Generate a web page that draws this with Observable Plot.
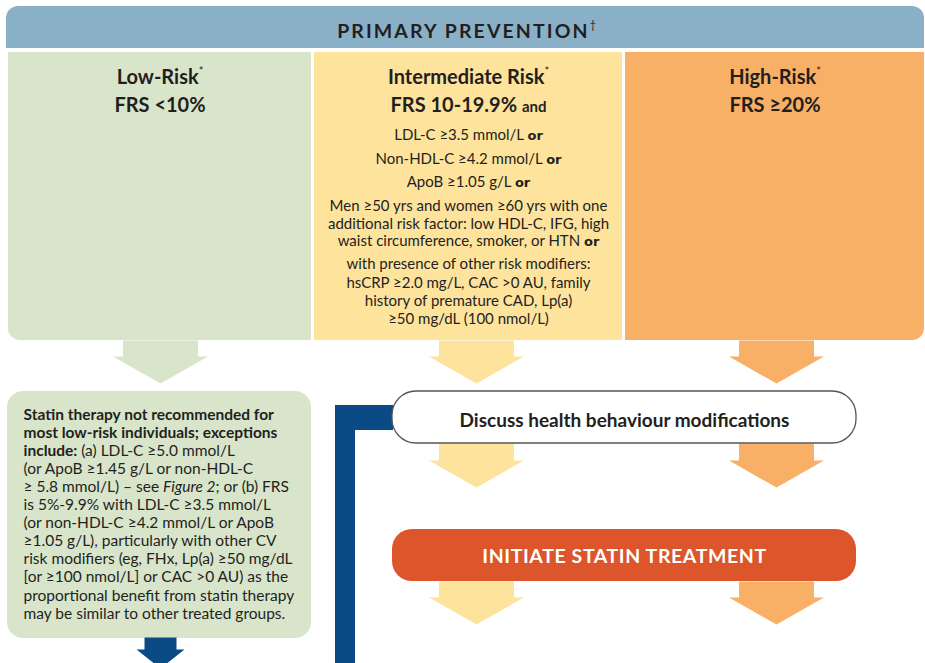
<!DOCTYPE html>
<html><head><meta charset="utf-8">
<script src="https://cdn.jsdelivr.net/npm/d3@7"></script>
<script src="https://cdn.jsdelivr.net/npm/@observablehq/plot@0.6"></script>
<style>
html,body{margin:0;padding:0;background:#fff;}
#chart svg{display:block;}
</style></head><body><div id="chart"></div>
<script>
// ---------- text content ----------
const title = "PRIMARY PREVENTION";
const titleNote = "†";
const riskGroups = ["Low-Risk", "Intermediate Risk", "High-Risk"];
const riskNote = "*";
const frsThresholds = ["FRS <10%", "FRS 10-19.9%", "FRS ≥20%"];
const frsJoiners = ["", "and", ""];
const intermediateCriteria = [
  "LDL-C ≥3.5 mmol/L {o:or}",
  "Non-HDL-C ≥4.2 mmol/L {o:or}",
  "ApoB ≥1.05 g/L {o:or}",
  "Men ≥50 yrs and women ≥60 yrs with one",
  "additional risk factor: low HDL-C, IFG, high",
  "waist circumference, smoker, or HTN {o:or}",
  "with presence of other risk modifiers:",
  "hsCRP ≥2.0 mg/L, CAC >0 AU, family",
  "history of premature CAD, Lp(a)",
  "≥50 mg/dL (100 nmol/L)"
];
const lowRiskNote = [
  "{b:Statin therapy not recommended for}",
  "{b:most low-risk individuals; exceptions}",
  "{b:include:} (a) LDL-C ≥5.0 mmol/L",
  "(or ApoB ≥1.45 g/L or non-HDL-C",
  "≥ 5.8 mmol/L) – see {i:Figure 2}; or (b) FRS",
  "is 5%-9.9% with LDL-C ≥3.5 mmol/L",
  "(or non-HDL-C ≥4.2 mmol/L or ApoB",
  "≥1.05 g/L), particularly with other CV",
  "risk modifiers (eg, FHx, Lp(a) ≥50 mg/dL",
  "[or ≥100 nmol/L] or CAC >0 AU) as the",
  "proportional benefit from statin therapy",
  "may be similar to other treated groups."
];
const steps = ["Discuss health behaviour modifications", "INITIATE STATIN TREATMENT"];

// ---------- layout (pixel units of the 925x663 canvas) ----------
const W = 925, H = 663;
const FONT = "Lato, 'Open Sans', sans-serif";
const INK = "#231F20";
const C = {header: "#8AB0C8", low: "#D8E5CB", mid: "#FEE39D", high: "#F8B067", red: "#DC552B", blue: "#0A4B85"};
const header = {x1: 6, x2: 924, y1: 6, y2: 48};
const cols = [
  {x1: 8, x2: 311, fill: C.low, cx: 159.5},
  {x1: 314, x2: 622, fill: C.mid, cx: 468},
  {x1: 625, x2: 924, fill: C.high, cx: 774.5}
];
const colTop = 52, colBottom = 340;
const noteBox = {x1: 7, x2: 311, y1: 391, y2: 638};
const stepBoxes = [{x1: 392, x2: 856, y1: 391, y2: 443}, {x1: 392, x2: 856, y1: 529, y2: 581}];

function arrow(id, cx, top, base, tip, stemHalf, headHalf) {
  return [[cx - stemHalf, top], [cx - stemHalf, base], [cx - headHalf, base], [cx, tip],
          [cx + headHalf, base], [cx + stemHalf, base], [cx + stemHalf, top]]
    .map(([x, y]) => ({id, x, y}));
}
const arrowRows = [[340, 356, 383], [443, 460, 487], [581, 597, 624]];
const arrowsLow = arrow("low", 160, ...arrowRows[0], 37.5, 47.5);
const arrowsMid = arrowRows.flatMap((r, i) => arrow("mid" + i, 476, ...r, 37.5, 47.5));
const arrowsHigh = arrowRows.flatMap((r, i) => arrow("high" + i, 776, ...r, 37.5, 47.5));
const arrowBlue = arrow("blue", 160, 637, 649, 668, 16, 24);

const rect = (o, fill, extra = {}) => Plot.rect([o], {x1: "x1", x2: "x2", y1: "y1", y2: "y2", fill, ...extra});

const titleRows = [{text: title + "{s:" + titleNote + "}", x: 466, y: 37}];
const headRows = [];
riskGroups.forEach((g, i) => headRows.push({text: g + "{s:" + riskNote + "}", x: cols[i].cx, y: 83}));
frsThresholds.forEach((f, i) => headRows.push({text: f + (frsJoiners[i] ? " {a:" + frsJoiners[i] + "}" : ""), x: cols[i].cx, y: 111}));
const critY = [139, 163, 186, 210, 228, 245, 268, 287, 305, 323];
const critRows = intermediateCriteria.map((t, i) => ({text: t, x: cols[1].cx, y: critY[i]}));
const noteRows = lowRiskNote.map((t, i) => ({text: t, x: 23, y: 419 + i * 18.1}));

const chart = Plot.plot({
  width: W, height: H, margin: 0,
  x: {domain: [0, W], axis: null},
  y: {domain: [H, 0], axis: null},
  style: {background: "#fff", fontFamily: FONT},
  marks: [
    // header band
    rect(header, C.header, {rx: 12}),
    rect({...header, y1: 26}, C.header),
    // risk columns
    rect({x1: cols[0].x1, x2: cols[0].x2, y1: colTop, y2: colBottom}, cols[0].fill, {rx: 12}),
    rect({x1: cols[0].x1, x2: cols[0].x2, y1: colTop, y2: colBottom - 20}, cols[0].fill),
    rect({x1: cols[0].x2 - 20, x2: cols[0].x2, y1: colTop, y2: colBottom}, cols[0].fill),
    rect({x1: cols[1].x1, x2: cols[1].x2, y1: colTop, y2: colBottom}, cols[1].fill),
    rect({x1: cols[2].x1, x2: cols[2].x2, y1: colTop, y2: colBottom}, cols[2].fill, {rx: 12}),
    rect({x1: cols[2].x1, x2: cols[2].x2, y1: colTop, y2: colBottom - 20}, cols[2].fill),
    rect({x1: cols[2].x1, x2: cols[2].x1 + 20, y1: colTop, y2: colBottom}, cols[2].fill),
    // arrows
    Plot.line(arrowsLow, {x: "x", y: "y", z: "id", fill: C.low, stroke: "none"}),
    Plot.line(arrowsMid, {x: "x", y: "y", z: "id", fill: C.mid, stroke: "none"}),
    Plot.line(arrowsHigh, {x: "x", y: "y", z: "id", fill: C.high, stroke: "none"}),
    // blue bracket
    rect({x1: 335, x2: 355, y1: 405, y2: H}, C.blue),
    rect({x1: 335, x2: 393, y1: 405, y2: 430}, C.blue),
    // low-risk note box
    rect(noteBox, C.low, {rx: 16}),
    Plot.line(arrowBlue, {x: "x", y: "y", z: "id", fill: C.blue, stroke: "none"}),
    // step boxes
    rect(stepBoxes[0], "#FFFFFF", {rx: 24, stroke: "#555", strokeWidth: 1.3}),
    rect(stepBoxes[1], C.red, {rx: 20}),
    // texts
    Plot.text(titleRows, {x: "x", y: "y", text: "text", fontSize: 19.5, fontWeight: "bold", fill: INK,
      textAnchor: "middle", lineAnchor: "bottom", fontFamily: FONT, className: "title-text"}),
    Plot.text(headRows, {x: "x", y: "y", text: "text", fontSize: 20, fontWeight: "bold", fill: INK,
      textAnchor: "middle", lineAnchor: "bottom", fontFamily: FONT}),
    Plot.text(critRows, {x: "x", y: "y", text: "text", fontSize: 15, fill: INK,
      textAnchor: "middle", lineAnchor: "bottom", fontFamily: FONT}),
    Plot.text(noteRows, {x: "x", y: "y", text: "text", fontSize: 15.5, fill: INK,
      textAnchor: "start", lineAnchor: "bottom", fontFamily: FONT}),
    Plot.text([{text: steps[0], x: 624, y: 426}], {x: "x", y: "y", text: "text", fontSize: 19, fontWeight: "bold", fill: INK,
      textAnchor: "middle", lineAnchor: "bottom", fontFamily: FONT}),
    Plot.text([{text: steps[1], x: 624, y: 562}], {x: "x", y: "y", text: "text", fontSize: 19.5, fontWeight: "bold", fill: "#FFFFFF",
      textAnchor: "middle", lineAnchor: "bottom", fontFamily: FONT, className: "step-red"})
  ]
});

// rich text: {b:bold} {i:italic} {o:heavy or} {a:small and} {s:superscript}
function addSpan(t, str, kind) {
  const ts = document.createElementNS("http://www.w3.org/2000/svg", "tspan");
  ts.textContent = str;
  if (kind === "b") ts.setAttribute("font-weight", "bold");
  if (kind === "i") ts.setAttribute("font-style", "italic");
  if (kind === "o") { ts.setAttribute("font-family", "DejaVu Sans"); ts.setAttribute("font-weight", "bold"); ts.setAttribute("font-size", "13"); }
  if (kind === "a") { ts.setAttribute("font-size", "15"); ts.setAttribute("font-weight", "bold"); }
  if (kind === "s") { ts.setAttribute("font-size", "0.55em"); ts.setAttribute("dy", "-0.75em"); ts.setAttribute("font-weight", "normal"); ts.setAttribute("letter-spacing", "0"); }
  t.appendChild(ts);
}
chart.querySelectorAll("text").forEach(t => {
  const s = t.textContent;
  if (!/\{[boias]:/.test(s)) return;
  t.textContent = "";
  const re = /\{([boias]):([^}]*)\}/g;
  let last = 0, m;
  while ((m = re.exec(s))) {
    if (m.index > last) addSpan(t, s.slice(last, m.index));
    addSpan(t, m[2], m[1]);
    last = re.lastIndex;
  }
  if (last < s.length) addSpan(t, s.slice(last));
});
chart.querySelectorAll(".title-text text").forEach(t => t.setAttribute("letter-spacing", "2.1"));
chart.querySelectorAll(".step-red text").forEach(t => t.setAttribute("letter-spacing", "0.6"));

document.getElementById("chart").appendChild(chart);
</script></body></html>
